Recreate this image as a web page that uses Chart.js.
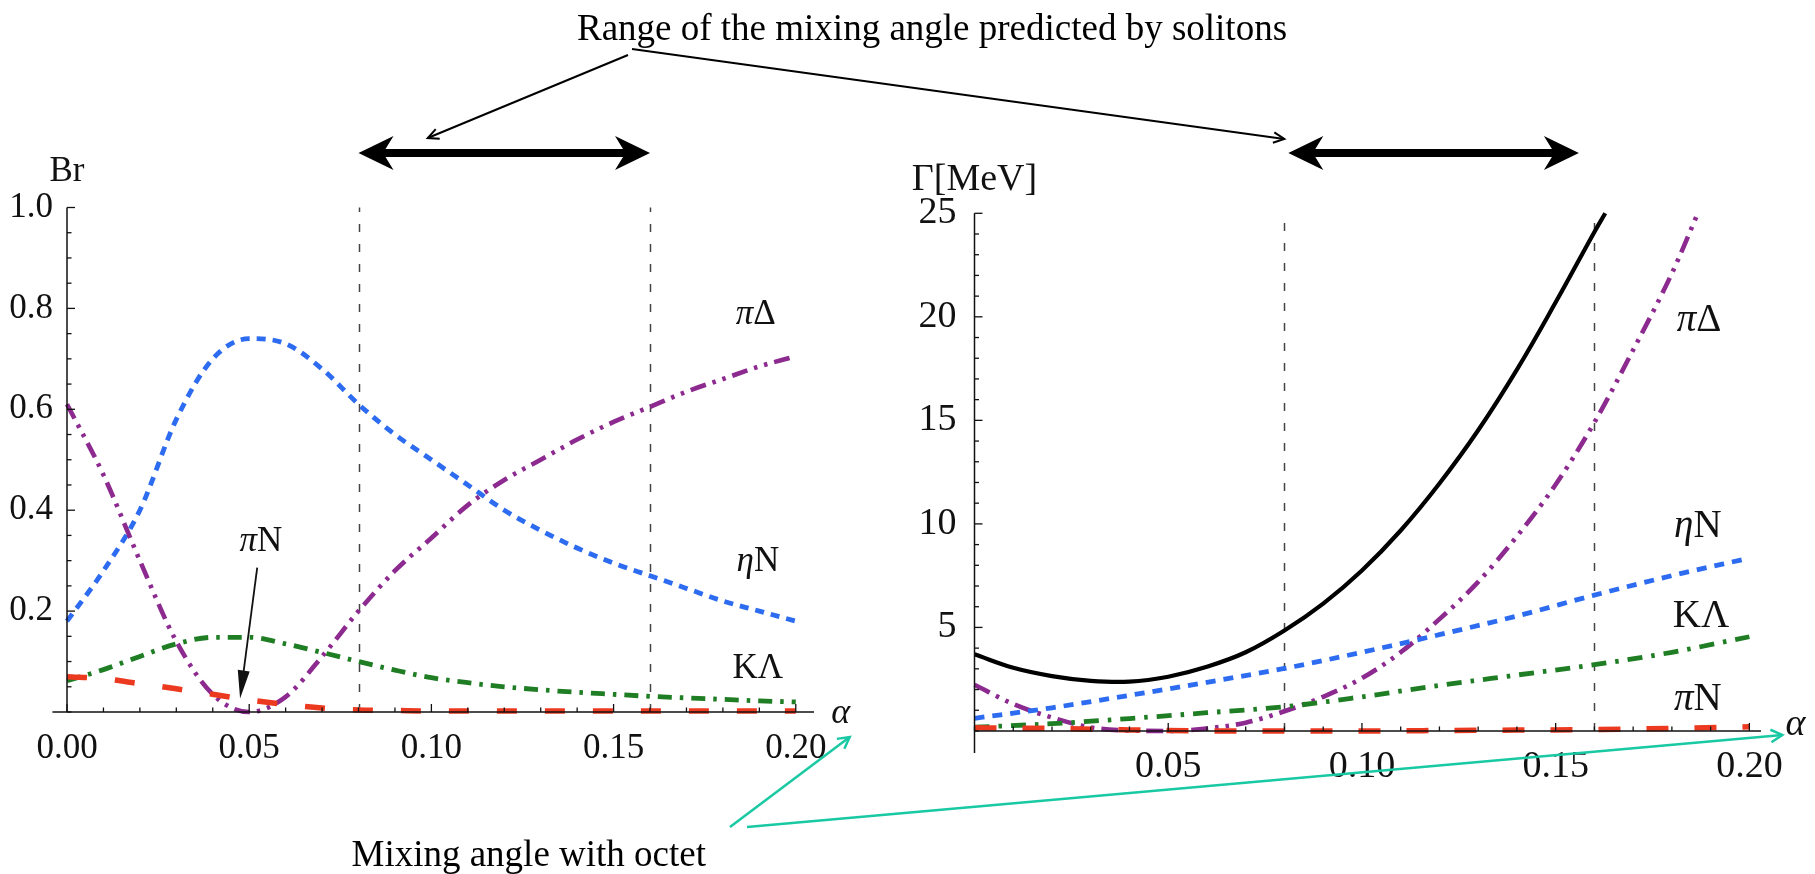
<!DOCTYPE html>
<html>
<head>
<meta charset="utf-8">
<title>Mixing angle – Br and widths</title>
<script src="https://cdn.jsdelivr.net/npm/chart.js@4.4.1/dist/chart.umd.min.js"></script>
<style>
  html, body { margin: 0; padding: 0; background: #fff; }
  #wrap { position: relative; width: 1815px; height: 874px; overflow: hidden; }
  #wrap canvas { position: absolute; left: 0; top: 0; }
</style>
</head>
<body>
<div id="wrap">
  <canvas id="brChart" width="1815" height="874"></canvas>
  <canvas id="gammaChart" width="1815" height="874"></canvas>
  <canvas id="notes" width="1815" height="874"></canvas>
</div>
<script>
/* =============================================
   Br and Γ vs mixing angle α
   ============================================= */

// mixing angle grid
const ALPHA        = [0.00,0.01,0.02,0.03,0.04,0.05,0.06,0.07,0.08,0.09,0.10,0.11,0.12,0.13,0.14,0.15,0.16,0.17,0.18,0.19,0.20];
const ALPHA_COARSE = [0.00,0.02,0.04,0.06,0.08,0.10,0.12,0.14,0.16,0.18,0.20];

// left panel: branching ratios
const BR_PI_DELTA = [0.61,0.47,0.30,0.14,0.035,0.0,0.03,0.11,0.20,0.28,0.345,0.41,0.46,0.50,0.54,0.575,0.605,0.635,0.66,0.685,0.705];
const BR_ETA_N    = [0.18,0.28,0.40,0.58,0.70,0.74,0.73,0.68,0.61,0.55,0.50,0.45,0.40,0.36,0.325,0.295,0.27,0.245,0.22,0.20,0.18];
const BR_K_LAMBDA = [0.062,0.084,0.11,0.135,0.148,0.148,0.135,0.118,0.10,0.083,0.068,0.058,0.05,0.044,0.039,0.035,0.031,0.028,0.025,0.022,0.02];
const BR_PI_N     = [0.07,0.066,0.056,0.046,0.035,0.024,0.015,0.008,0.004,0.003,0.002,0.002,0.002,0.002,0.002,0.002,0.002,0.002,0.002,0.002,0.002];

// right panel: partial widths in MeV (total and pi-Delta leave the frame at 25)
const ALPHA_TOTAL    = [0.00,0.01,0.02,0.03,0.04,0.05,0.06,0.07,0.08,0.09,0.10,0.11,0.12,0.13,0.14,0.15,0.16,0.1628];
const GAMMA_TOTAL    = [3.70,3.05,2.65,2.42,2.38,2.62,3.10,3.80,4.85,6.15,7.75,9.68,11.95,14.52,17.45,20.70,24.10,25.0];
const ALPHA_PI_DELTA = [0.00,0.01,0.02,0.03,0.04,0.05,0.06,0.07,0.08,0.09,0.10,0.11,0.12,0.13,0.14,0.15,0.16,0.17,0.18,0.1867];
const GAMMA_PI_DELTA = [2.23,1.30,0.65,0.17,0.02,0.0,0.12,0.40,0.95,1.65,2.55,3.80,5.40,7.20,9.40,11.9,14.9,18.4,22.1,25.0];
const GAMMA_ETA_N    = [0.61,1.12,1.72,2.35,3.02,3.80,4.65,5.55,6.56,7.50,8.35];
const GAMMA_K_LAMBDA = [0.18,0.35,0.60,0.88,1.17,1.65,2.20,2.70,3.20,3.80,4.55];
const GAMMA_PI_N     = [0.15,0.12,0.05,0.0,0.0,0.0,0.02,0.04,0.07,0.12,0.20];

// ticks
const BR_X_TICKS    = [0.00,0.05,0.10,0.15,0.20];
const BR_Y_TICKS    = [0.2,0.4,0.6,0.8,1.0];
const GAMMA_X_TICKS = [0.05,0.10,0.15,0.20];
const GAMMA_Y_TICKS = [5,10,15,20,25];

// soliton range of alpha
const SOLITON_RANGE = [0.08, 0.16];

const TITLE_TOP    = 'Range of the mixing angle predicted by solitons';
const TITLE_BOTTOM = 'Mixing angle with octet';

const FONT   = '"Liberation Serif", "Times New Roman", serif';
const BLUE   = '#2d6cf0';
const GREEN  = '#1f7d24';
const PURPLE = '#8c2a90';
const RED    = '#ec3a20';

const steps = (a, b, s) => { const out = []; for (let i = 0; a + i * s <= b + 1e-9; i++) out.push(+(a + i * s).toFixed(4)); return out; };

function series(label, xs, ys, color, width, dash, smooth) {
  return {
    label,
    data: xs.map((x, i) => ({ x, y: ys[i] })),
    borderColor: color, borderWidth: width, borderDash: dash,
    pointRadius: 0, fill: false, clip: 10,
    cubicInterpolationMode: smooth ? 'default' : 'monotone', tension: smooth ? 0.4 : 0,
  };
}

function axis(min, max, ticks, fmt, size, pad, position, fixed) {
  const horiz = position === 'bottom' || (typeof position === 'object' && 'y' in position);
  return {
    type: 'linear', min, max, position,
    grid: { display: false }, border: { display: false },
    afterBuildTicks: s => { s.ticks = ticks.map(v => ({ value: v })); },
    afterFit: s => { if (fixed) { if (horiz) s.height = fixed; else s.width = fixed; } },
    ticks: { callback: fmt, color: '#111', font: { family: FONT, size }, padding: pad, autoSkip: false, maxRotation: 0, minRotation: 0 },
  };
}

// text with italic / upright pieces, centred on (x, y)
function drawRich(ctx, parts, x, y, size) {
  const fonts = parts.map(p => `${p[1] ? 'italic ' : ''}${size}px ${FONT}`);
  let total = 0;
  const widths = parts.map((p, i) => { ctx.font = fonts[i]; const w = ctx.measureText(p[0]).width; total += w; return w; });
  let cx = x - total / 2;
  ctx.textAlign = 'left'; ctx.textBaseline = 'middle';
  parts.forEach((p, i) => { ctx.font = fonts[i]; ctx.fillText(p[0], cx, y); cx += widths[i]; });
}

function line(ctx, x1, y1, x2, y2) { ctx.beginPath(); ctx.moveTo(x1, y1); ctx.lineTo(x2, y2); ctx.stroke(); }

function arrow(ctx, x1, y1, x2, y2, len, spread) {
  const a = Math.atan2(y2 - y1, x2 - x1);
  line(ctx, x1, y1, x2, y2);
  ctx.beginPath();
  ctx.moveTo(x2 - len * Math.cos(a - spread), y2 - len * Math.sin(a - spread));
  ctx.lineTo(x2, y2);
  ctx.lineTo(x2 - len * Math.cos(a + spread), y2 - len * Math.sin(a + spread));
  ctx.stroke();
}

// dashed guides, axis lines, inward ticks and curve labels
function decor(cfg) {
  return {
    id: 'decor',
    beforeDatasetsDraw(chart) {
      const { ctx, scales: { x, y } } = chart;
      ctx.save();
      ctx.strokeStyle = '#444'; ctx.lineWidth = 1.5; ctx.setLineDash([8, 12]);
      SOLITON_RANGE.forEach(g => {
        const px = Math.round(x.getPixelForValue(g)) + 0.5;
        line(ctx, px, y.getPixelForValue(0), px, y.getPixelForValue(cfg.guideTop));
      });
      ctx.restore();
    },
    afterDatasetsDraw(chart) {
      const { ctx, scales: { x, y } } = chart;
      const x0 = x.getPixelForValue(0), y0 = y.getPixelForValue(0);
      ctx.save();
      ctx.strokeStyle = '#111'; ctx.lineWidth = 1.5;
      line(ctx, x.getPixelForValue(cfg.xLine[0]), y0, x.getPixelForValue(cfg.xLine[1]), y0);
      line(ctx, x0, y.getPixelForValue(cfg.yLine[0]), x0, y.getPixelForValue(cfg.yLine[1]));
      ctx.lineWidth = 1.3;
      steps(0, cfg.xLine[1], cfg.xMinor).forEach(v => {
        const big = cfg.xMajor.some(m => Math.abs(m - v) < 1e-6);
        const px = x.getPixelForValue(v);
        line(ctx, px, y0, px, y0 - (big ? 8 : 4.5));
      });
      steps(0, cfg.yLine[1], cfg.yMinor).forEach(v => {
        const big = cfg.yMajor.some(m => Math.abs(m - v) < 1e-6);
        const py = y.getPixelForValue(v);
        line(ctx, x0, py, x0 + (big ? 8 : 4.5), py);
      });
      ctx.fillStyle = '#111';
      cfg.labels.forEach(l => drawRich(ctx, l.parts, x.getPixelForValue(l.at[0]), y.getPixelForValue(l.at[1]), l.size));
      if (cfg.pointer) {
        const [a, b] = cfg.pointer;
        const ax = x.getPixelForValue(a[0]), ay = y.getPixelForValue(a[1]);
        const bx = x.getPixelForValue(b[0]), by = y.getPixelForValue(b[1]);
        const ang = Math.atan2(by - ay, bx - ax);
        ctx.lineWidth = 1.8;
        line(ctx, ax, ay, bx - 20 * Math.cos(ang), by - 20 * Math.sin(ang));
        ctx.beginPath();
        ctx.moveTo(bx, by);
        ctx.lineTo(bx - 28 * Math.cos(ang) + 6 * Math.sin(ang), by - 28 * Math.sin(ang) - 6 * Math.cos(ang));
        ctx.lineTo(bx - 28 * Math.cos(ang) - 6 * Math.sin(ang), by - 28 * Math.sin(ang) + 6 * Math.cos(ang));
        ctx.closePath(); ctx.fill();
      }
      ctx.restore();
    },
  };
}

const baseOpts = { responsive: false, animation: false, events: [], plugins: { legend: { display: false }, tooltip: { enabled: false } } };

const brChart = new Chart(document.getElementById('brChart'), {
  type: 'line',
  data: { datasets: [
    series('πN', ALPHA, BR_PI_N, RED, 5.5, [20, 28]),
    series('KΛ', ALPHA, BR_K_LAMBDA, GREEN, 4.8, [14, 8, 3.5, 8]),
    series('πΔ', ALPHA, BR_PI_DELTA, PURPLE, 4.6, [16, 7, 3.5, 7, 3.5, 7]),
    series('ηN', ALPHA, BR_ETA_N, BLUE, 4.8, [9, 7]),
  ]},
  options: {
    ...baseOpts,
    layout: { padding: { left: 7, right: 1001, top: 207.5, bottom: 102 } },
    scales: {
      x: axis(0, 0.205, BR_X_TICKS, v => v.toFixed(2), 35, 8, 'bottom', 60),
      y: axis(0, 1.0, BR_Y_TICKS, v => v.toFixed(1), 35, 6, 'left', 60),
    },
  },
  plugins: [decor({
    guideTop: 1.0, xLine: [-0.004, 0.205], yLine: [0, 1.0],
    xMajor: BR_X_TICKS, xMinor: 0.01, yMajor: BR_Y_TICKS, yMinor: 0.05,
    labels: [
      { parts: [['π', true], ['Δ', false]], at: [0.189, 0.787], size: 35 },
      { parts: [['η', true], ['N', false]], at: [0.1896, 0.298], size: 35 },
      { parts: [['KΛ', false]], at: [0.1896, 0.086], size: 35 },
      { parts: [['π', true], ['N', false]], at: [0.0532, 0.337], size: 35 },
      { parts: [['Br', false]], at: [0.0, 1.07], size: 35 },
      { parts: [['α', true]], at: [0.2123, -0.004], size: 36 },
    ],
    pointer: [[0.0522, 0.286], [0.0475, 0.027]],
  })],
});

const gammaChart = new Chart(document.getElementById('gammaChart'), {
  type: 'line',
  data: { datasets: [
    series('πN', ALPHA_COARSE, GAMMA_PI_N, RED, 5.5, [22, 26]),
    series('KΛ', ALPHA_COARSE, GAMMA_K_LAMBDA, GREEN, 4.8, [15, 9, 3.5, 9]),
    series('ηN', ALPHA_COARSE, GAMMA_ETA_N, BLUE, 4.8, [10, 8]),
    series('πΔ', ALPHA_PI_DELTA, GAMMA_PI_DELTA, PURPLE, 4.6, [17, 7, 3.5, 7, 3.5, 7]),
    series('total', ALPHA_TOTAL, GAMMA_TOTAL, '#000', 4.2, [], true),
  ]},
  options: {
    ...baseOpts,
    layout: { padding: { left: 914.5, right: 54, top: 213.3, bottom: 121.1 } },
    scales: {
      x: axis(0, 0.203, GAMMA_X_TICKS, v => v.toFixed(2), 38, 5, { y: 0 }, 0),
      y: axis(-1.06, 25, GAMMA_Y_TICKS, v => String(v), 38, 10, 'left', 60),
    },
  },
  plugins: [decor({
    guideTop: 24.7, xLine: [0, 0.203], yLine: [-1.06, 25],
    xMajor: GAMMA_X_TICKS, xMinor: 0.01, yMajor: GAMMA_Y_TICKS, yMinor: 1,
    labels: [
      { parts: [['π', true], ['Δ', false]], at: [0.187, 19.8], size: 39 },
      { parts: [['η', true], ['N', false]], at: [0.1867, 9.87], size: 39 },
      { parts: [['KΛ', false]], at: [0.1875, 5.5], size: 39 },
      { parts: [['π', true], ['N', false]], at: [0.1867, 1.5], size: 39 },
      { parts: [['Γ[MeV]', false]], at: [0.0, 26.6], size: 38 },
      { parts: [['α', true]], at: [0.2119, 0.3], size: 38 },
    ],
  })],
});

// annotations spanning both panels
function drawNotes() {
  const ctx = document.getElementById('notes').getContext('2d');
  const L = brChart.scales, R = gammaChart.scales;
  ctx.fillStyle = '#000'; ctx.strokeStyle = '#000';

  ctx.font = `37px ${FONT}`; ctx.textAlign = 'left'; ctx.textBaseline = 'alphabetic';
  ctx.fillText(TITLE_TOP, 577, 40);
  ctx.textAlign = 'right';
  ctx.fillText(TITLE_BOTTOM, 706, 866);

  // thick double arrows over the soliton range
  const ay = L.y.getPixelForValue(1.108);
  const spans = [
    [L.x.getPixelForValue(SOLITON_RANGE[0]), L.x.getPixelForValue(SOLITON_RANGE[1])],
    [R.x.getPixelForValue(0.081), R.x.getPixelForValue(0.156)],
  ];
  spans.forEach(([xa, xb]) => {
    const head = 35, half = 17, shaft = 4, notch = 8;
    ctx.beginPath();
    ctx.moveTo(xa, ay);
    ctx.lineTo(xa + head, ay - half); ctx.lineTo(xa + head - notch, ay - shaft);
    ctx.lineTo(xb - head + notch, ay - shaft); ctx.lineTo(xb - head, ay - half);
    ctx.lineTo(xb, ay);
    ctx.lineTo(xb - head, ay + half); ctx.lineTo(xb - head + notch, ay + shaft);
    ctx.lineTo(xa + head - notch, ay + shaft); ctx.lineTo(xa + head, ay + half);
    ctx.closePath(); ctx.fill();
  });

  // thin pointers from the top caption
  ctx.lineWidth = 2;
  arrow(ctx, 628, 55, L.x.getPixelForValue(0.099), ay - 15, 12, 0.45);
  arrow(ctx, 632, 49, spans[1][0] - 4, ay - 14, 12, 0.45);

  // cyan pointers from the bottom caption to the alpha axes
  ctx.strokeStyle = '#19c9a3'; ctx.lineWidth = 2.5;
  arrow(ctx, 730, 827, L.x.getPixelForValue(0.2148), L.y.getPixelForValue(0) + 25, 13, 0.5);
  arrow(ctx, 747, 827, R.x.getPixelForValue(0.2085), R.y.getPixelForValue(0) + 4, 13, 0.5);
}

drawNotes();
</script>
</body>
</html>
